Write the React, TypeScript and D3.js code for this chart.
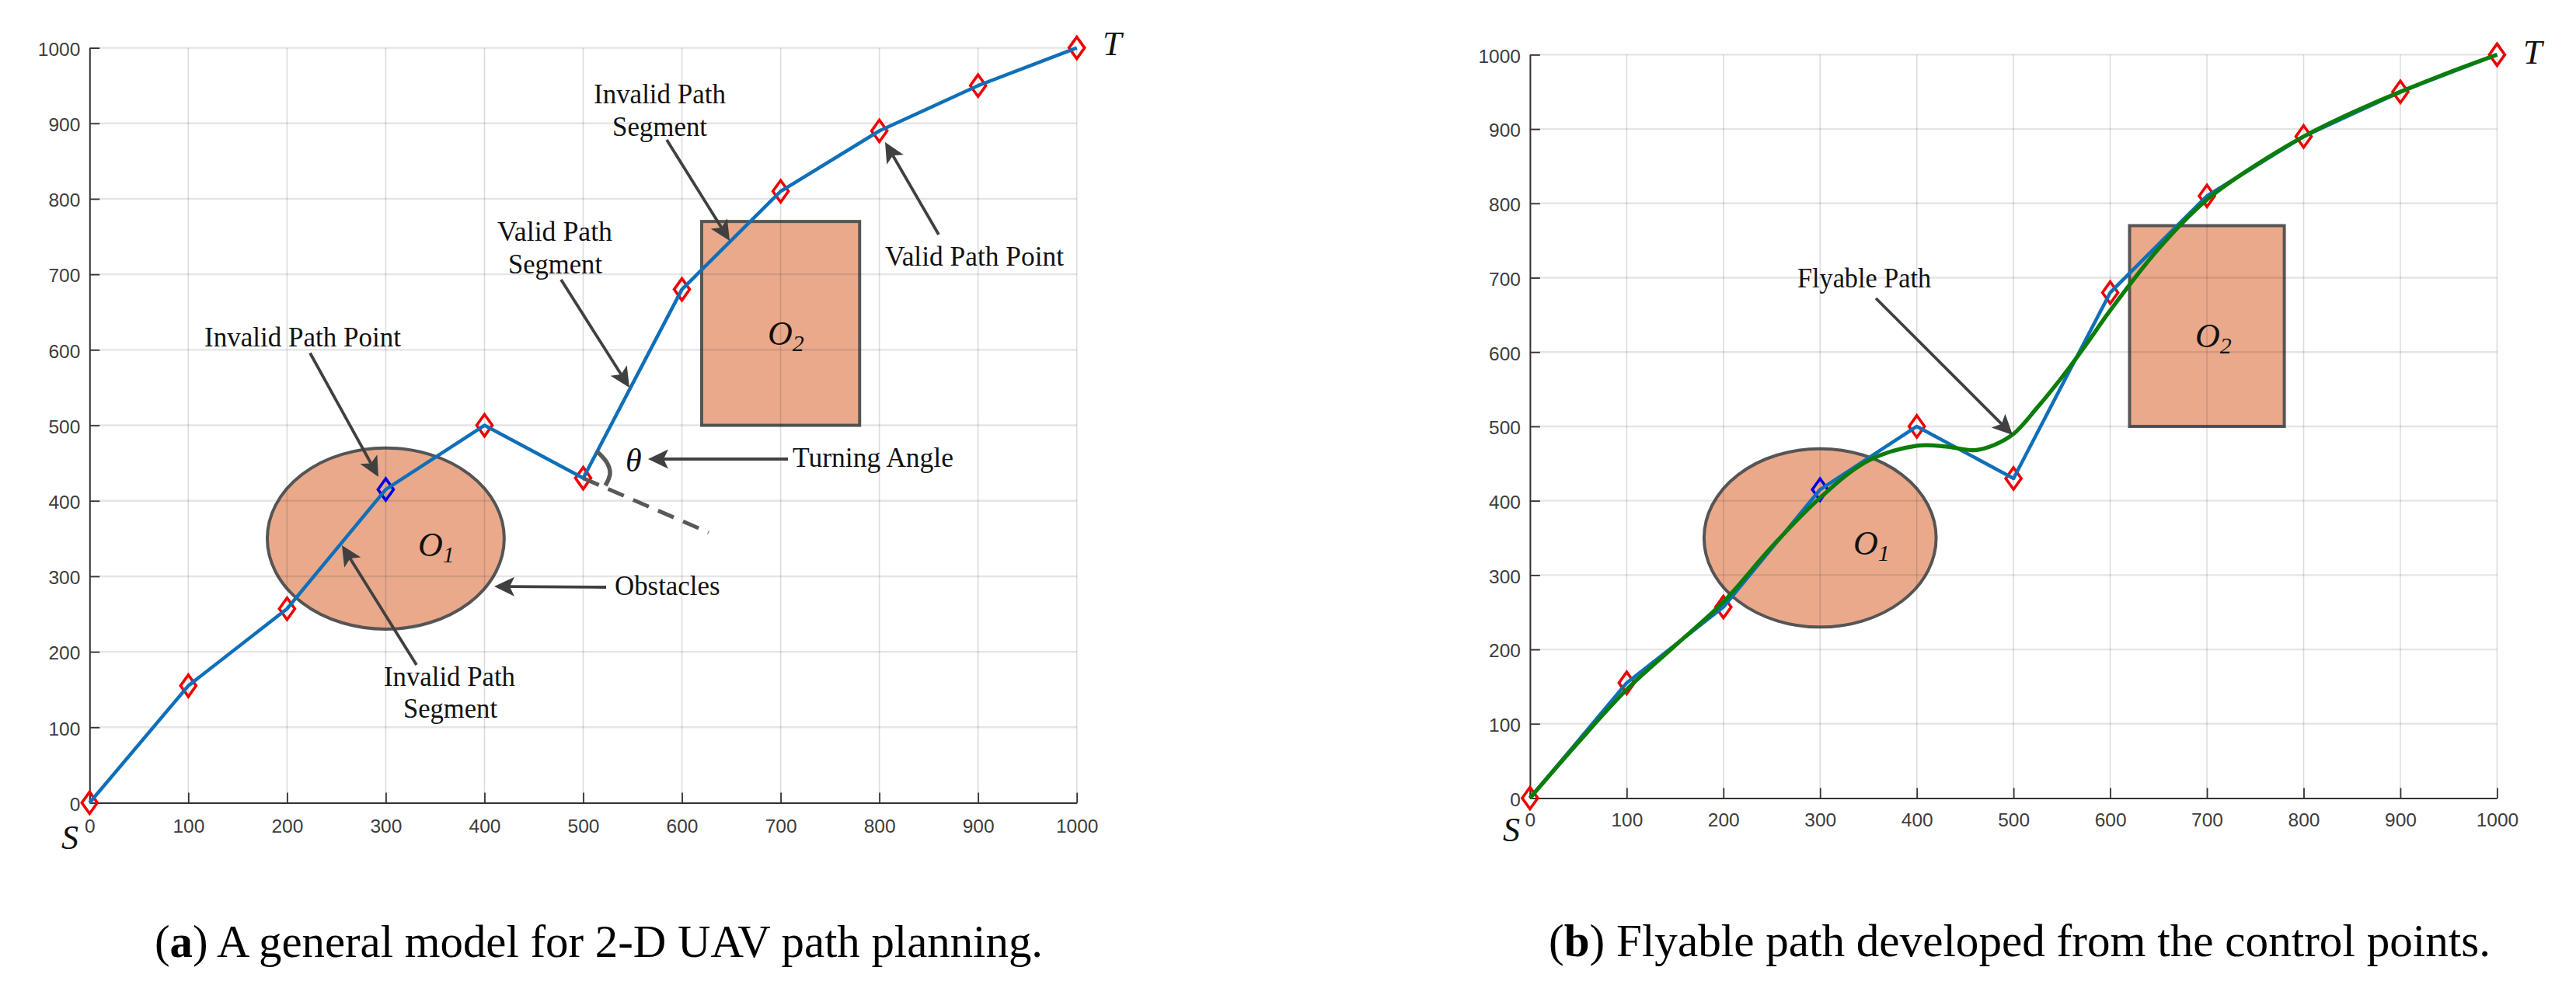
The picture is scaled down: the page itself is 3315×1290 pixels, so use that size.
import React, { useEffect, useRef } from "react";
import * as d3 from "d3";

// ---- data ----
const pathX = [0, 100, 200, 300, 400, 500, 600, 700, 800, 900, 1000];
const pathY = [0, 155, 257, 415, 500, 430, 680, 810, 890, 950, 1000];
const invalidPointIndex = 3;
const flyX = [0, 50, 100, 150, 200, 250, 300, 350, 400, 430, 460, 480, 500, 525, 550, 575, 600, 650, 700, 750, 800, 850, 900, 950, 1000];
const flyY = [0, 75, 146, 205, 264, 338, 404, 454, 474, 473, 468, 475, 490, 526, 566, 610, 656, 739, 805, 851, 890, 922, 950, 976, 1000];
const ticks = [0, 100, 200, 300, 400, 500, 600, 700, 800, 900, 1000];
const ellipseObstacle = { cx: 300, cy: 350, rx: 120, ry: 120 };
const rectObstacle = { x0: 620, x1: 780, y0: 500, y1: 770 };
const extensionEnd = [627, 358];

const SERIF = "'Liberation Serif', serif";
const SANS = "'Liberation Sans', sans-serif";
const DARK = "#404040";

type Label = [string, number, number, number]; // text, x0, x1, baseline
type Arrow = [number, number, number, number];

const panels = [
  {
    x: [115.3, 1385.7], y: [1033.5, 61.6], tickY: 38, showFly: false,
    labels: [
      ["Invalid Path Point", 263, 516, 446],
      ["Valid Path", 640, 788, 310],
      ["Segment", 654, 775, 352],
      ["Invalid Path", 764, 934, 133],
      ["Segment", 788, 910, 175],
      ["Valid Path Point", 1139, 1369, 342],
      ["Turning Angle", 1020, 1227, 601],
      ["Obstacles", 791, 926.5, 766],
      ["Invalid Path", 494, 663, 882.6],
      ["Segment", 519, 640, 923.5],
    ] as Label[],
    arrows: [
      [399, 454.5, 487, 614],
      [722, 360, 810, 499],
      [858, 180, 939, 310],
      [1208, 302, 1139, 183],
      [1014, 591, 834, 591],
      [780, 756, 636, 755],
      [536, 856, 440, 702],
    ] as Arrow[],
    S: [79, 1093], T: [1419, 71], O1: [538, 716], O2: [988, 443.5],
  },
  {
    x: [1968.9, 3213.4], y: [1027.5, 70.4], tickY: 36.5, showFly: true,
    labels: [["Flyable Path", 2313, 2485, 369.6]] as Label[],
    arrows: [[2414, 384, 2590, 560]] as Arrow[],
    S: [1934, 1083], T: [3247, 82], O1: [2385, 714], O2: [2825, 447],
  },
];

function drawPanel(svg: d3.Selection<SVGSVGElement, unknown, null, undefined>, p: (typeof panels)[number]) {
  const g = svg.append("g");
  const x = d3.scaleLinear().domain([0, 1000]).range(p.x);
  const y = d3.scaleLinear().domain([0, 1000]).range(p.y);

  // obstacles
  const e = ellipseObstacle;
  g.append("ellipse")
    .attr("cx", x(e.cx)).attr("cy", y(e.cy))
    .attr("rx", x(e.cx + e.rx) - x(e.cx)).attr("ry", y(e.cy) - y(e.cy + e.ry))
    .attr("fill", "#EAA98B").attr("stroke", "#555").attr("stroke-width", 4);
  const r = rectObstacle;
  g.append("rect")
    .attr("x", x(r.x0)).attr("y", y(r.y1))
    .attr("width", x(r.x1) - x(r.x0)).attr("height", y(r.y0) - y(r.y1))
    .attr("fill", "#EAA98B").attr("stroke", "#555").attr("stroke-width", 4);

  // grid
  const grid = g.append("g");
  ticks.slice(1).forEach((t) => {
    grid.append("line").attr("x1", x(t)).attr("x2", x(t)).attr("y1", y(0)).attr("y2", y(1000))
      .attr("stroke", "rgba(40,40,40,0.16)").attr("stroke-width", 1.6);
    grid.append("line").attr("x1", x(0)).attr("x2", x(1000)).attr("y1", y(t)).attr("y2", y(t))
      .attr("stroke", "rgba(40,40,40,0.12)").attr("stroke-width", 2.4);
  });

  // axes
  const fmt = (d: d3.NumberValue) => String(d);
  const axB = d3.axisBottom(x).tickValues(ticks).tickFormat(fmt).tickSizeInner(-13).tickSizeOuter(0).tickPadding(0);
  const axL = d3.axisLeft(y).tickValues(ticks).tickFormat(fmt).tickSizeInner(-13).tickSizeOuter(0).tickPadding(0);
  const gx = g.append("g").attr("transform", `translate(0,${y(0)})`).call(axB);
  const gy = g.append("g").attr("transform", `translate(${x(0)},0)`).call(axL);
  [gx, gy].forEach((a) => {
    a.selectAll(".domain").attr("stroke", "#333").attr("stroke-width", 2);
    a.selectAll(".tick line").attr("stroke", "#333").attr("stroke-width", 1.8);
    a.selectAll("text").attr("font-family", SANS).attr("font-size", 24.5).attr("fill", "#3c3c3c");
  });
  gx.selectAll("text").attr("dy", null).attr("y", p.tickY);
  gy.selectAll("text").attr("x", -12).attr("dy", "0.4em");

  // paths
  const pts = pathX.map((v, i) => [x(v), y(pathY[i])] as [number, number]);
  const line = d3.line();
  g.append("g").selectAll("path").data(pts).join("path")
    .attr("d", (d) => {
      const [a, b] = d;
      return line([[a, b - 14], [a + 10, b], [a, b + 14], [a - 10, b]]) + "Z";
    })
    .attr("fill", "none")
    .attr("stroke", (_, i) => (i === invalidPointIndex ? "#0000e6" : "#f00000"))
    .attr("stroke-width", 3.6);
  g.append("path").attr("d", line(pts)!).attr("fill", "none").attr("stroke", "#0F6FB8").attr("stroke-width", 4.5).attr("stroke-linejoin", "round");

  if (p.showFly) {
    const fly = d3.line<number>().x((v) => x(v)).y((_, i) => y(flyY[i])).curve(d3.curveCatmullRom.alpha(0.5));
    g.append("path").attr("d", fly(flyX)!).attr("fill", "none").attr("stroke", "#0A7D0A").attr("stroke-width", 5.2);
  } else {
    // turning-angle construction, extension of the segment through point 5
    g.append("line").attr("x1", x(pathX[5])).attr("y1", y(pathY[5])).attr("x2", x(extensionEnd[0])).attr("y2", y(extensionEnd[1]))
      .attr("stroke", "#595959").attr("stroke-width", 5).attr("stroke-dasharray", "22 13");
    const arc = d3.line().curve(d3.curveNatural);
    g.append("path").attr("d", arc([[768, 581], [780, 594], [785, 610], [779, 625]])!)
      .attr("fill", "none").attr("stroke", "#595959").attr("stroke-width", 5.5);
    g.append("text").attr("x", 805).attr("y", 607).attr("font-family", SERIF).attr("font-style", "italic").attr("font-size", 42).attr("fill", "#111").text("θ");
  }

  // arrows
  p.arrows.forEach(([x1, y1, x2, y2]) => {
    const ang = Math.atan2(y2 - y1, x2 - x1);
    const L = 26, W = 12.5, N = 20;
    const c = Math.cos(ang), s = Math.sin(ang);
    const P = (a: number, b: number): [number, number] => [x2 - a * c - b * s, y2 - a * s + b * c];
    g.append("line").attr("x1", x1).attr("y1", y1).attr("x2", P(N, 0)[0]).attr("y2", P(N, 0)[1])
      .attr("stroke", DARK).attr("stroke-width", 3.8);
    g.append("path").attr("d", line([P(0, 0), P(L, W), P(N, 0), P(L, -W)]) + "Z").attr("fill", DARK);
  });

  // labels
  p.labels.forEach(([t, x0, x1, b]) => {
    g.append("text").attr("x", x0).attr("y", b).attr("font-family", SERIF).attr("font-size", 36)
      .attr("fill", "#111").attr("textLength", x1 - x0).attr("lengthAdjust", "spacingAndGlyphs").text(t);
  });

  const ital = (tx: string, px: number, py: number, fs: number, sub?: string) => {
    const t = g.append("text").attr("x", px).attr("y", py).attr("font-family", SERIF).attr("font-style", "italic")
      .attr("font-size", fs).attr("fill", "#111").text(tx);
    if (sub) t.append("tspan").attr("dy", 8).attr("font-size", fs * 0.68).text(sub);
  };
  ital("S", p.S[0], p.S[1], 44);
  ital("T", p.T[0], p.T[1], 44);
  ital("O", p.O1[0], p.O1[1], 44, "1");
  ital("O", p.O2[0], p.O2[1], 44, "2");
}

function caption(svg: d3.Selection<SVGSVGElement, unknown, null, undefined>, tag: string, rest: string, x0: number, x1: number, b: number) {
  const t = svg.append("text").attr("x", x0).attr("y", b).attr("font-family", SERIF).attr("font-size", 60).attr("fill", "#000")
    .attr("textLength", x1 - x0).attr("lengthAdjust", "spacingAndGlyphs");
  t.append("tspan").text("(");
  t.append("tspan").attr("font-weight", "bold").text(tag);
  t.append("tspan").text(") " + rest);
}

export default function App() {
  const ref = useRef<SVGSVGElement>(null);
  useEffect(() => {
    const svg = d3.select(ref.current!);
    svg.selectAll("*").remove();
    panels.forEach((p) => drawPanel(svg, p));
    caption(svg, "a", "A general model for 2-D UAV path planning.", 199, 1342, 1232);
    caption(svg, "b", "Flyable path developed from the control points.", 1993, 3205, 1230.5);
  }, []);
  return <svg ref={ref} width={3315} height={1290} style={{ position: "absolute", left: 0, top: 0, display: "block", background: "#fff" }} />;
}
